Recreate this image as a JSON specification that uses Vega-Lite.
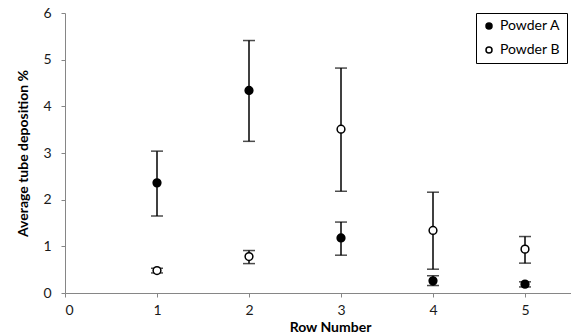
{
  "$schema": "https://vega.github.io/schema/vega-lite/v6.json",
  "autosize": {"type": "none"},
  "width": 506,
  "height": 280,
  "padding": {"left": 65, "top": 13, "right": 0, "bottom": 41},
  "background": "white",
  "config": {
    "font": "Lato",
    "view": {"stroke": null},
    "axis": {"grid": false, "domainColor": "#868686", "tickColor": "#868686", "labelColor": "#1a1a1a", "labelFontSize": 14, "titleFontSize": 14, "titleFontWeight": "bold", "titleColor": "#000000", "tickSize": 4, "domainWidth": 1}
  },
  "data": {
    "values": [
      {"row": 1, "powder": "Powder A", "mean": 2.36, "lo": 1.65, "hi": 3.04},
      {"row": 2, "powder": "Powder A", "mean": 4.34, "lo": 3.25, "hi": 5.41},
      {"row": 3, "powder": "Powder A", "mean": 1.18, "lo": 0.81, "hi": 1.52},
      {"row": 4, "powder": "Powder A", "mean": 0.26, "lo": 0.16, "hi": 0.37},
      {"row": 5, "powder": "Powder A", "mean": 0.19, "lo": 0.13, "hi": 0.24},
      {"row": 1, "powder": "Powder B", "mean": 0.48, "lo": 0.43, "hi": 0.53},
      {"row": 2, "powder": "Powder B", "mean": 0.78, "lo": 0.63, "hi": 0.91},
      {"row": 3, "powder": "Powder B", "mean": 3.51, "lo": 2.18, "hi": 4.82},
      {"row": 4, "powder": "Powder B", "mean": 1.34, "lo": 0.51, "hi": 2.16},
      {"row": 5, "powder": "Powder B", "mean": 0.94, "lo": 0.64, "hi": 1.21}
    ]
  },
  "encoding": {
    "x": {"field": "row", "type": "quantitative", "scale": {"domain": [0, 5.5], "nice": false}, "axis": {"values": [0, 1, 2, 3, 4, 5], "title": "Row Number", "titleX": 265, "titlePadding": 3, "labelPadding": 6}}
  },
  "layer": [
    {
      "mark": {"type": "rule", "color": "black", "strokeWidth": 1.5},
      "encoding": {
        "y": {"field": "lo", "type": "quantitative", "scale": {"domain": [0, 6], "nice": false}, "axis": {"values": [0, 1, 2, 3, 4, 5, 6], "title": "Average tube deposition %", "titlePadding": 12, "labelPadding": 10}},
        "y2": {"field": "hi"}
      }
    },
    {
      "mark": {"type": "tick", "orient": "horizontal", "color": "black", "size": 12, "thickness": 1.5},
      "encoding": {"y": {"field": "lo", "type": "quantitative"}}
    },
    {
      "mark": {"type": "tick", "orient": "horizontal", "color": "black", "size": 12, "thickness": 1.5},
      "encoding": {"y": {"field": "hi", "type": "quantitative"}}
    },
    {
      "mark": {"type": "point", "shape": "circle", "size": 60, "stroke": "black", "strokeWidth": 1.5, "opacity": 1, "filled": false},
      "encoding": {
        "y": {"field": "mean", "type": "quantitative"},
        "fill": {"field": "powder", "type": "nominal", "scale": {"domain": ["Powder A", "Powder B"], "range": ["black", "white"]},
          "legend": {"title": null, "orient": "none", "legendX": 411, "legendY": 0, "strokeColor": "black", "padding": 6, "labelFontSize": 14, "labelColor": "#000000", "symbolSize": 36, "symbolStrokeColor": "black", "symbolStrokeWidth": 1.5, "rowPadding": 10, "labelOffset": 4, "fillColor": "white"}}
      }
    }
  ]
}
